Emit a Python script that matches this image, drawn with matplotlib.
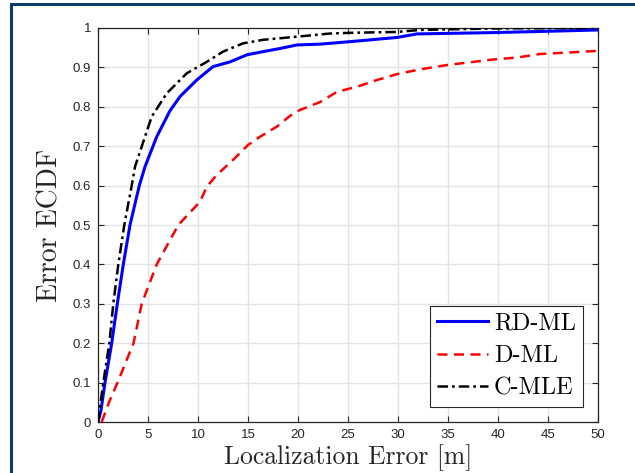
import matplotlib
matplotlib.use("Agg")
import matplotlib.pyplot as plt
from matplotlib.patches import Rectangle

plt.rcParams['font.family'] = ['Liberation Sans', 'DejaVu Sans']

# RD-ML
rd_x = [0, 0.3, 0.7, 1.37, 1.93, 2.53, 3.2, 4.13, 4.7, 5.87, 7.2, 8.2, 9.87, 11.5, 13.2,
        14.9, 16.5, 18.2, 19.9, 22.2, 25.5, 29.9, 31.9, 38.9, 45.5, 50]
rd_y = [0, 0.03, 0.1, 0.2, 0.3, 0.4, 0.5, 0.6, 0.648, 0.724, 0.79, 0.826, 0.868, 0.902, 0.914,
        0.932, 0.94, 0.948, 0.957, 0.959, 0.966, 0.976, 0.985, 0.988, 0.992, 0.995]

# D-ML
d_x = [0.37, 1.1, 1.95, 3.55, 4.37, 5.87, 8.03, 10.2, 10.87, 11.87, 13.5, 15.0, 16.2, 17.9,
       19.2, 20.2, 22.2, 23.9, 25.9, 27.9, 29.9, 32.2, 34.9, 37.2, 39.5, 41.9, 44.2, 47.2, 50]
d_y = [0, 0.05, 0.1, 0.2, 0.3, 0.4, 0.5, 0.559, 0.597, 0.627, 0.665, 0.703, 0.724, 0.75,
       0.777, 0.792, 0.812, 0.838, 0.851, 0.868, 0.883, 0.895, 0.906, 0.913, 0.92, 0.925,
       0.934, 0.938, 0.942]

# C-MLE
c_x = [0, 0.53, 1.13, 1.53, 2.03, 2.63, 3.37, 3.7, 4.37, 5.37, 6.87, 8.87, 10.87, 12.5,
       14.5, 16.5, 19.9, 23.2, 25.5, 29.9, 32.2, 36, 40, 50]
c_y = [0, 0.1, 0.2, 0.3, 0.4, 0.5, 0.6, 0.648, 0.699, 0.775, 0.834, 0.885, 0.914, 0.94,
       0.961, 0.97, 0.978, 0.986, 0.988, 0.99, 0.995, 0.997, 0.999, 1.0]

labels = ['RD-ML', 'D-ML', 'C-MLE']

x_ticks = list(range(0, 51, 5))
y_ticks = [i / 10 for i in range(11)]
y_tick_labels = ['0', '0.1', '0.2', '0.3', '0.4', '0.5', '0.6', '0.7', '0.8', '0.9', '1']

serif = ['cmr10', 'DejaVu Serif']

fig = plt.figure(figsize=(6.35, 4.73), dpi=100)
fig.patches.append(Rectangle((11 / 635, -0.1), 1.2, 1.1 - 4 / 473,
                             transform=fig.transFigure, fill=False,
                             edgecolor='#0b3c6f', linewidth=2.2, zorder=10))
ax = fig.add_axes([98 / 635, 1 - 422 / 473, 500 / 635, 394 / 473])

ax.plot(rd_x, rd_y, color='#0000ff', lw=2.2, label=labels[0], zorder=3)
ax.plot(d_x, d_y, color='#ff0000', lw=1.8, dashes=(4, 2.6), label=labels[1], zorder=3)
ax.plot(c_x, c_y, color='black', lw=1.8, dashes=(4.2, 1.6, 1.1, 1.6), label=labels[2], zorder=4)

ax.set_xlim(0, 50)
ax.set_ylim(0, 1)
ax.set_xticks(x_ticks)
ax.set_xticklabels([str(t) for t in x_ticks])
ax.set_yticks(y_ticks)
ax.set_yticklabels(y_tick_labels)
ax.grid(True, color='#e3e3e3', lw=1.0)
ax.set_axisbelow(True)
ax.tick_params(direction='in', top=True, right=True, length=4, width=0.8,
               colors='#262626', labelsize=9.5, labelcolor='#262626', pad=5)
for s in ax.spines.values():
    s.set_color('#262626')
    s.set_linewidth(0.9)

ax.set_xlabel('Localization Error [m]', fontsize=18.5, color='#262626', labelpad=2.5,
              family=serif)
ax.set_ylabel('Error ECDF', fontsize=20, color='#262626', labelpad=6.5, family=serif)

leg = ax.legend(loc='lower right', prop={'family': serif, 'size': 17.5}, frameon=True,
                fancybox=False, edgecolor='#262626', framealpha=1, borderpad=0.3,
                labelspacing=0.42, handlelength=2.1, handletextpad=0.22, borderaxespad=0.62)
leg.get_frame().set_linewidth(0.8)

fig.savefig('out.png', dpi=100)
